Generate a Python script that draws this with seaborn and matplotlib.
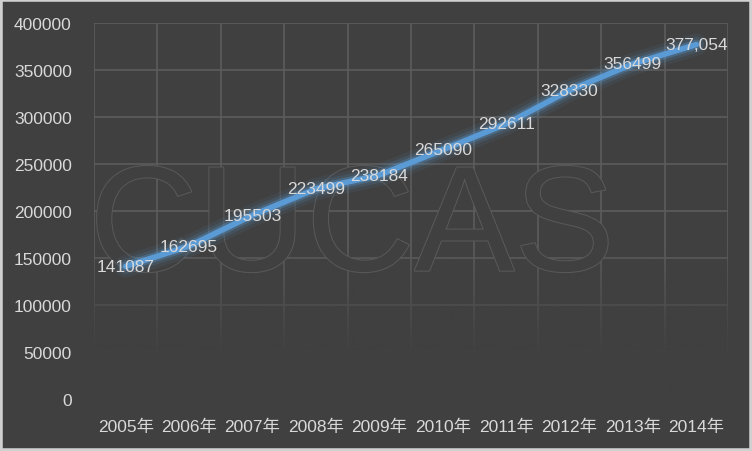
import numpy as np
import pandas as pd
import seaborn as sns
import matplotlib.pyplot as plt
import matplotlib.patheffects as pe
from matplotlib.patches import Rectangle

# data
years = ["2005年", "2006年", "2007年", "2008年", "2009年",
         "2010年", "2011年", "2012年", "2013年", "2014年"]
students = [141087, 162695, 195503, 223499, 238184,
            265090, 292611, 328330, 356499, 377054]
point_labels = ["141087", "162695", "195503", "223499", "238184",
                "265090", "292611", "328330", "356499", "377,054"]
y_ticks = [0, 50000, 100000, 150000, 200000, 250000, 300000, 350000, 400000]

bg = "#404040"
txt = "#d9d9d9"
blue = "#5b9bd5"

sns.set_style("dark")
plt.rcParams['font.family'] = ['Liberation Sans', 'Noto Sans CJK SC']

df = pd.DataFrame({"year": years, "n": students})
df["pos"] = range(len(df))

fig = plt.figure(figsize=(7.52, 4.52), dpi=100, facecolor=bg)
ax = fig.add_axes([94/752, 52/452, 634/752, 376/452])
ax.set_facecolor(bg)

ax.set_xlim(-0.5, len(years) - 0.5)
ax.set_ylim(0, 400000)

# gridlines: horizontal at ticks, vertical between categories
for v in y_ticks:
    ax.axhline(v, color="#5c5c5c", lw=1.2, zorder=0.5)
for i in range(len(years) + 1):
    ax.axvline(i - 0.5, color="#5c5c5c", lw=1.2, zorder=0.5)

# fade the lower part of the grid (as in the original)
grad = np.zeros((200, 2, 4))
grad[..., :3] = np.array([0x40, 0x40, 0x40]) / 255
yy = np.linspace(0, 400000, 200)
alpha = np.clip((160000 - yy) / (160000 - 45000), 0, 1)
grad[..., 3] = alpha[:, None]
ax.imshow(grad, extent=(-0.5, len(years) - 0.5, 0, 400000), origin="lower",
          aspect="auto", zorder=1, interpolation="bilinear")

# watermark
ax.text(0.407, 0.445, "CUCAS", transform=ax.transAxes, ha="center", va="center",
        fontsize=108, color=bg, zorder=1.5,
        path_effects=[pe.withStroke(linewidth=1.4, foreground="#5a5a5a")])

sns.lineplot(data=df, x="pos", y="n", ax=ax, color=blue, lw=4, zorder=3,
             path_effects=[pe.Stroke(linewidth=16, foreground=blue, alpha=0.08),
                           pe.Stroke(linewidth=11, foreground=blue, alpha=0.15),
                           pe.Stroke(linewidth=7, foreground=blue, alpha=0.3),
                           pe.Normal()])

for x, y, lab in zip(df["pos"], df["n"], point_labels):
    ax.text(x, y, lab, ha="center", va="center", color=txt, fontsize=12.5, zorder=4)

ax.set_xticks(df["pos"])
ax.set_xticklabels(years)
ax.set_yticks(y_ticks)
ax.set_yticklabels([str(v) for v in y_ticks])
ax.tick_params(axis="x", colors=txt, labelsize=12.5, length=0, pad=14)
ax.tick_params(axis="y", colors=txt, labelsize=12.5, length=0, pad=16)
ax.set_xlabel("")
ax.set_ylabel("")
ax.grid(False)
for s in ax.spines.values():
    s.set_visible(False)

fig.patches.append(Rectangle((0, 0), 1, 1, transform=fig.transFigure, fill=False,
                             edgecolor="#d0d0d0", lw=4))

fig.savefig("out.png", dpi=100, facecolor=bg)
